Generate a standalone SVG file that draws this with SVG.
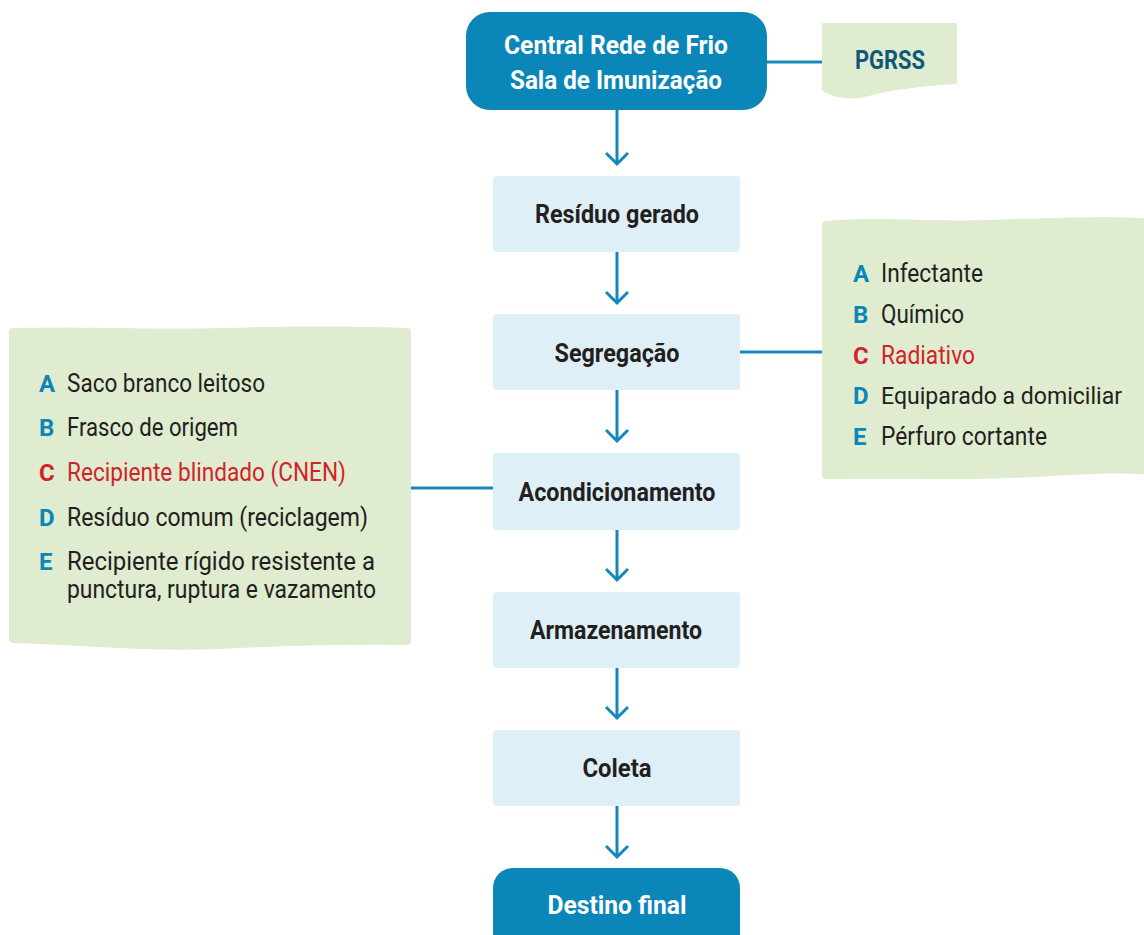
<svg xmlns="http://www.w3.org/2000/svg" width="1144" height="935" viewBox="0 0 1144 935">
<style>
.step{fill:#dfeff7}
.main{fill:#0a86b9}
.note{fill:#dfecd0}
.conn{stroke:#1787bb;stroke-width:3;fill:none}
.head{stroke:#1787bb;stroke-width:3;fill:none;stroke-linejoin:miter}
.lbl{font-family:Roboto,"Liberation Sans",sans-serif;font-weight:bold;font-size:25px;fill:#231f20;text-anchor:middle}
.wlbl{font-family:Roboto,"Liberation Sans",sans-serif;font-weight:bold;font-size:25px;fill:#ffffff;text-anchor:middle}
.it{font-family:Roboto,"Liberation Sans",sans-serif;font-size:25.5px;fill:#231f20}
.key{font-family:Roboto,"Liberation Sans",sans-serif;font-weight:bold;font-size:24px;fill:#0a86b9}
.red{fill:#d2232a}
</style>
<g id="connectors">
<line class="conn" x1="767" y1="62" x2="822" y2="62"/>
<line class="conn" x1="740" y1="352" x2="822" y2="352"/>
<line class="conn" x1="411" y1="488" x2="493" y2="488"/>
<line class="conn" x1="617" y1="110" x2="617" y2="164"/>
<polyline class="head" points="606,153 617,164 628,153"/>
<line class="conn" x1="617" y1="252" x2="617" y2="303"/>
<polyline class="head" points="606,292 617,303 628,292"/>
<line class="conn" x1="617" y1="390" x2="617" y2="441"/>
<polyline class="head" points="606,430 617,441 628,430"/>
<line class="conn" x1="617" y1="530" x2="617" y2="580"/>
<polyline class="head" points="606,569 617,580 628,569"/>
<line class="conn" x1="617" y1="668" x2="617" y2="718"/>
<polyline class="head" points="606,707 617,718 628,707"/>
<line class="conn" x1="617" y1="806" x2="617" y2="857"/>
<polyline class="head" points="606,846 617,857 628,846"/>
</g>
<g id="central">
<rect class="main" x="466" y="12" width="301" height="98" rx="24"/>
<text class="wlbl" x="616" y="54" textLength="224" lengthAdjust="spacingAndGlyphs">Central Rede de Frio</text>
<text class="wlbl" x="616" y="89" textLength="212" lengthAdjust="spacingAndGlyphs">Sala de Imunização</text>
</g>
<g id="pgrss">
<path class="note" d="M822,23 L957,23 L957,84 C920,86 890,90 865,97 C845,101 830,96 822,90 Z"/>
<text class="lbl" x="890" y="69" style="fill:#0e5878" textLength="70" lengthAdjust="spacingAndGlyphs">PGRSS</text>
</g>
<g id="residuo">
<rect class="step" x="493" y="176" width="247" height="76" rx="4"/>
<text class="lbl" x="617" y="223" textLength="164" lengthAdjust="spacingAndGlyphs">Resíduo gerado</text>
</g>
<g id="segregacao">
<rect class="step" x="493" y="314" width="247" height="76" rx="4"/>
<text class="lbl" x="617" y="362" textLength="125" lengthAdjust="spacingAndGlyphs">Segregação</text>
</g>
<g id="acondicionamento">
<rect class="step" x="493" y="453" width="247" height="77" rx="4"/>
<text class="lbl" x="617" y="501" textLength="197" lengthAdjust="spacingAndGlyphs">Acondicionamento</text>
</g>
<g id="armazenamento">
<rect class="step" x="493" y="592" width="247" height="76" rx="4"/>
<text class="lbl" x="616" y="639" textLength="172" lengthAdjust="spacingAndGlyphs">Armazenamento</text>
</g>
<g id="coleta">
<rect class="step" x="493" y="730" width="247" height="76" rx="4"/>
<text class="lbl" x="617" y="777" textLength="69" lengthAdjust="spacingAndGlyphs">Coleta</text>
</g>
<g id="destino">
<rect class="main" x="493" y="868" width="247" height="90" rx="20"/>
<text class="wlbl" x="617" y="914" textLength="139" lengthAdjust="spacingAndGlyphs">Destino final</text>
</g>
<g id="tipos">
<path class="note" d="M826,221 C880,216 930,222 990,220 C1050,218 1100,216 1144,218 L1144,474 C1100,472 1060,476 1010,478 C960,480 900,478 826,479 Q822,479 822,475 L822,225 Q822,221 826,221 Z"/>
<text class="key" x="853" y="282">A</text><text class="it" x="881" y="282" textLength="102" lengthAdjust="spacingAndGlyphs">Infectante</text>
<text class="key" x="853" y="323">B</text><text class="it" x="881" y="323" textLength="83" lengthAdjust="spacingAndGlyphs">Químico</text>
<text class="key red" x="853" y="364">C</text><text class="it red" x="881" y="364" textLength="94" lengthAdjust="spacingAndGlyphs">Radiativo</text>
<text class="key" x="853" y="404">D</text><text class="it" x="881" y="404" style="font-size:24px" textLength="241" lengthAdjust="spacingAndGlyphs">Equiparado a domiciliar</text>
<text class="key" x="853" y="445">E</text><text class="it" x="881" y="445" textLength="166" lengthAdjust="spacingAndGlyphs">Pérfuro cortante</text>
</g>
<g id="recipientes">
<path class="note" d="M13,328 C80,326 150,330 220,328 C290,326 350,326 407,328 Q411,328 411,332 L411,641 Q411,645 407,645 C340,644 280,646 220,649 C150,652 80,645 13,643 Q9,643 9,639 L9,332 Q9,328 13,328 Z"/>
<text class="key" x="39" y="392">A</text><text class="it" x="67" y="392" textLength="198" lengthAdjust="spacingAndGlyphs">Saco branco leitoso</text>
<text class="key" x="39" y="436">B</text><text class="it" x="67" y="436" textLength="171" lengthAdjust="spacingAndGlyphs">Frasco de origem</text>
<text class="key red" x="39" y="481">C</text><text class="it red" x="67" y="481" textLength="279" lengthAdjust="spacingAndGlyphs">Recipiente blindado (CNEN)</text>
<text class="key" x="39" y="526">D</text><text class="it" x="67" y="526" textLength="301" lengthAdjust="spacingAndGlyphs">Resíduo comum (reciclagem)</text>
<text class="key" x="39" y="570">E</text><text class="it" x="67" y="570" textLength="308" lengthAdjust="spacingAndGlyphs">Recipiente rígido resistente a</text>
<text class="it" x="67" y="598" textLength="309" lengthAdjust="spacingAndGlyphs">punctura, ruptura e vazamento</text>
</g>
</svg>
